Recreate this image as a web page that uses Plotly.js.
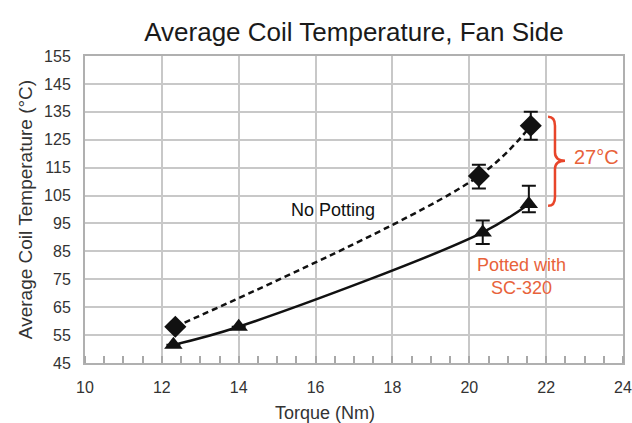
<!DOCTYPE html>
<html>
<head>
<meta charset="utf-8">
<script src="https://cdn.plot.ly/plotly-3.0.1.min.js"></script>
<style>html,body{margin:0;padding:0;background:#fff;}#chart{width:632px;height:423px;}</style>
</head>
<body>
<div id="chart"></div>
<script>
// Data
var noPotTorque = [12.35, 20.25, 21.6];
var noPotTemp = [58, 112, 130];
var noPotErrPlus = [0, 4, 5];
var noPotErrMinus = [0, 4.5, 5];

var pottedTorque = [12.3, 14.0, 20.35, 21.55];
var pottedTemp = [51.5, 58, 91.8, 102];
var pottedErrPlus = [0, 0, 4.3, 6.5];
var pottedErrMinus = [0, 0, 4.2, 3];

var yTicks = [45, 55, 65, 75, 85, 95, 105, 115, 125, 135, 145, 155];
var xTicks = [10, 12, 14, 16, 18, 20, 22, 24];

var font = '"Liberation Sans", Arial, Helvetica, sans-serif';
var orange = '#e8623a';
var braceColor = '#e8452a';

var traces = [
  {
    x: noPotTorque, y: noPotTemp, type: 'scatter', mode: 'lines+markers',
    line: {color: '#111', width: 2.5, dash: '6px,4px', shape: 'spline'},
    marker: {symbol: 'diamond', size: 17, color: '#111'},
    error_y: {type: 'data', symmetric: false, array: noPotErrPlus, arrayminus: noPotErrMinus,
              color: '#111', thickness: 2, width: 7},
    showlegend: false, hoverinfo: 'x+y'
  },
  {
    x: pottedTorque, y: pottedTemp, type: 'scatter', mode: 'lines+markers',
    line: {color: '#111', width: 2.5, shape: 'spline'},
    marker: {symbol: 'triangle-up', size: 16, color: '#111'},
    error_y: {type: 'data', symmetric: false, array: pottedErrPlus, arrayminus: pottedErrMinus,
              color: '#111', thickness: 2, width: 7},
    showlegend: false, hoverinfo: 'x+y'
  }
];

var layout = {
  width: 632, height: 423,
  margin: {l: 85, r: 9, t: 56, b: 60},
  paper_bgcolor: '#fff', plot_bgcolor: '#fff',
  font: {family: font, color: '#222'},
  title: {text: 'Average Coil Temperature, Fan Side', font: {size: 26, color: '#1a1a1a', family: font},
          x: 0.5, xref: 'paper', xanchor: 'center', y: 1 - 32 / 423, yref: 'container', yanchor: 'middle'},
  xaxis: {
    range: [10, 24], tickvals: xTicks, ticktext: xTicks.map(String),
    showgrid: true, gridcolor: '#c8c8c8', gridwidth: 2,
    showline: true, linecolor: '#b0b0b0', linewidth: 2, mirror: true,
    ticks: '', zeroline: false,
    tickfont: {size: 16, color: '#333', family: font},
    ticklabelstandoff: 9,
    minor: {dtick: 0.5, tick0: 10, ticks: 'inside', ticklen: 7, tickcolor: '#a8a8a8', tickwidth: 2, showgrid: false}
  },
  yaxis: {
    range: [45, 155], tickvals: yTicks, ticktext: yTicks.map(String),
    showgrid: true, gridcolor: '#c8c8c8', gridwidth: 2,
    showline: true, linecolor: '#b0b0b0', linewidth: 2, mirror: true,
    ticks: '', zeroline: false,
    tickfont: {size: 16, color: '#333', family: font},
    ticklabelstandoff: 9,
    title: {text: 'Average Coil Temperature (°C)', font: {size: 19, color: '#333', family: font}, standoff: 6}
  },
  annotations: [
    {x: 0.446, y: -0.163, xref: 'paper', yref: 'paper', text: 'Torque (Nm)', showarrow: false,
     xanchor: 'center', yanchor: 'middle', font: {size: 18, color: '#333', family: font}},
    {x: 16.45, y: 99.8, xref: 'x', yref: 'y', text: 'No Potting', showarrow: false,
     font: {size: 18, color: '#111', family: font}},
    {x: 21.37, y: 76, xref: 'x', yref: 'y', text: 'Potted with<br>SC-320', showarrow: false,
     font: {size: 18, color: orange, family: font}},
    {x: 23.3, y: 118.8, xref: 'x', yref: 'y', text: '27°C', showarrow: false,
     font: {size: 20, color: orange, family: font}}
  ],
  shapes: [
    {type: 'path', xref: 'x', yref: 'y',
     path: 'M 22.05,133.2 Q 22.23,133.2 22.23,130 L 22.23,120.5 Q 22.23,117.5 22.49,117.5 Q 22.23,117.5 22.23,114.5 L 22.23,104.5 Q 22.23,101.3 22.05,101.3',
     line: {color: braceColor, width: 2.5}}
  ]
};

Plotly.newPlot('chart', traces, layout, {staticPlot: true, displayModeBar: false});
</script>
</body>
</html>
